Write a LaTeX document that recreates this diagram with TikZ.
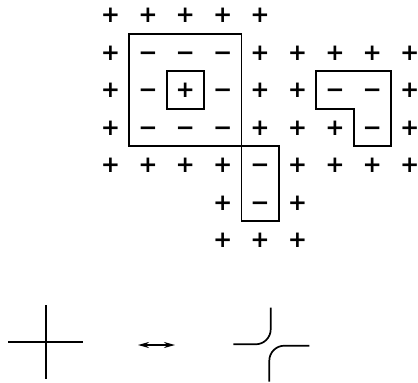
\documentclass[tikz,border=0pt]{standalone}
\usepackage{fontspec}
\newfontfamily\sgnfont{DejaVu Sans}
\usetikzlibrary{arrows.meta}
\tikzset{
  sgn/.style={inner sep=0pt, text height=15pt, text depth=0pt, font=\sgnfont\bfseries\fontsize{23}{23}\selectfont},
  wall/.style={line width=1.8pt, line join=miter},
  fig/.style={line width=1.7pt}
}
\begin{document}
\begin{tikzpicture}[x=1pt,y=-1pt]
\useasboundingbox (0,0) rectangle (418,383);
\begin{scope}[shift={(110.5,15)}, x=37.4pt, y=-37.5pt]
  % row 0
  \foreach \i in {0,...,4} {\node[sgn] (p\i0) at (\i,0) {+};}
  % row 1
  \node[sgn] (p01) at (0,1) {+};
  \foreach \i in {1,2,3} {\node[sgn] (m\i1) at (\i,1) {−};}
  \foreach \i in {4,...,8} {\node[sgn] (p\i1) at (\i,1) {+};}
  % row 2
  \node[sgn] (p02) at (0,2) {+};
  \node[sgn] (m12) at (1,2) {−};
  \node[sgn] (p22) at (2,2) {+};
  \node[sgn] (m32) at (3,2) {−};
  \node[sgn] (p42) at (4,2) {+};
  \node[sgn] (p52) at (5,2) {+};
  \node[sgn] (m62) at (6,2) {−};
  \node[sgn] (m72) at (7,2) {−};
  \node[sgn] (p82) at (8,2) {+};
  % row 3
  \node[sgn] (p03) at (0,3) {+};
  \foreach \i in {1,2,3} {\node[sgn] (m\i3) at (\i,3) {−};}
  \foreach \i in {4,5,6} {\node[sgn] (p\i3) at (\i,3) {+};}
  \node[sgn] (m73) at (7,3) {−};
  \node[sgn] (p83) at (8,3) {+};
  % row 4
  \foreach \i in {0,...,3} {\node[sgn] (p\i4) at (\i,4) {+};}
  \node[sgn] (m44) at (4,4) {−};
  \foreach \i in {5,...,8} {\node[sgn] (p\i4) at (\i,4) {+};}
  % row 5
  \node[sgn] (p35) at (3,5) {+};
  \node[sgn] (m45) at (4,5) {−};
  \node[sgn] (p55) at (5,5) {+};
  % row 6
  \foreach \i in {3,4,5} {\node[sgn] (p\i6) at (\i,6) {+};}
  % domain walls
  \draw[wall] (0.5,0.5) rectangle (3.5,3.5);
  \draw[wall] (1.5,1.5) rectangle (2.5,2.5);
  \draw[wall] (3.5,3.5) rectangle (4.5,5.5);
  \draw[wall] (5.5,1.5) -- (7.5,1.5) -- (7.5,3.5) -- (6.5,3.5) -- (6.5,2.5) -- (5.5,2.5) -- cycle;
\end{scope}
% crossing
\draw[fig] (8.3,341.7) -- (83.3,341.7);
\draw[fig] (45.7,305) -- (45.7,379.3);
% arrow
\coordinate (aL) at (138,345);
\coordinate (aR) at (175,345);
\draw[fig, {Stealth[length=11pt,width=6pt]}-{Stealth[length=11pt,width=6pt]}] (aL) -- (aR);
% resolved crossing
\draw[fig, rounded corners=15pt] (233.3,344.3) -- (270.7,344.3) -- (270.7,307.7);
\draw[fig, rounded corners=15pt] (269.3,381.7) -- (269.3,345.7) -- (309.3,345.7);
\end{tikzpicture}
\end{document}
